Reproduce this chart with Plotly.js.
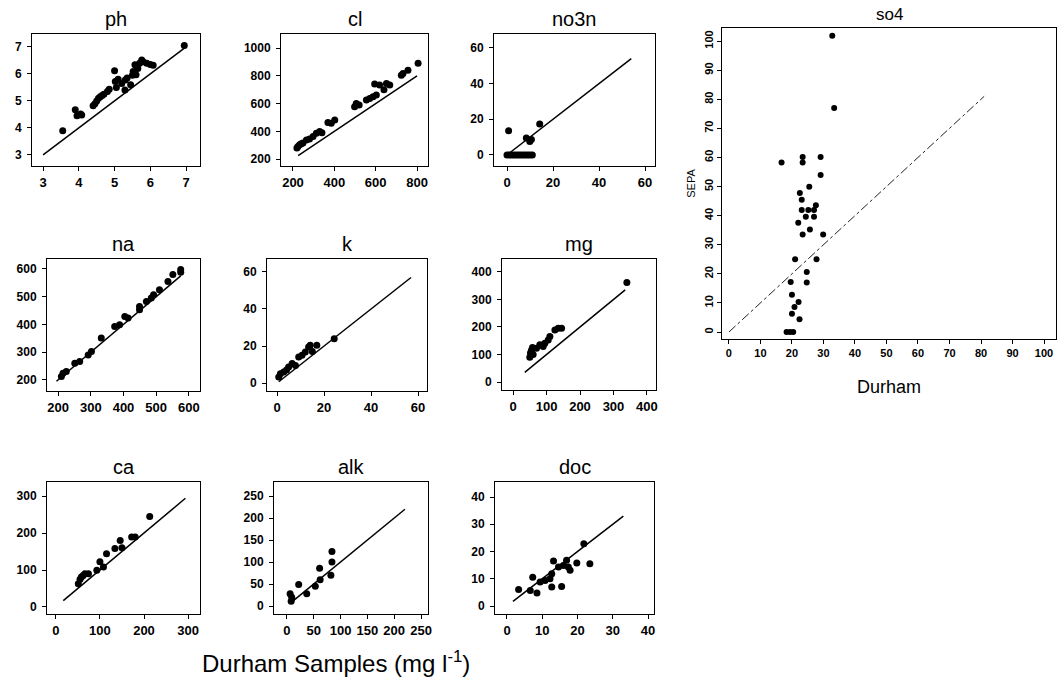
<!DOCTYPE html>
<html><head><meta charset="utf-8">
<script src="https://cdn.plot.ly/plotly-3.0.1.min.js"></script>
<style>html,body{margin:0;padding:0;background:#fff}#chart{width:1058px;height:684px}</style>
</head><body><div id="chart"></div>
<script>
// ---- data (Durham vs SEPA) ----
const panelNames = ['ph','cl','no3n','na','k','mg','ca','alk','doc','so4'];

const ph_durham = [3.55,3.9,3.95,4.08,4.05,4.4,4.45,4.5,4.55,4.6,4.65,4.7,4.8,4.85,5.0,5.02,5.05,5.1,5.2,5.29,5.3,5.35,5.45,5.5,5.52,5.57,5.6,5.65,5.7,5.76,5.8,5.9,6.0,6.08,6.95];
const ph_sepa   = [3.9,4.67,4.45,4.48,4.52,4.82,4.9,5.0,5.1,5.16,5.2,5.25,5.35,5.43,6.12,5.72,5.5,5.8,5.65,5.41,5.78,5.85,5.6,5.95,6.09,6.34,5.97,6.2,6.4,6.52,6.45,6.4,6.35,6.32,7.05];
const ph_line   = [3, 7];

const cl_durham = [219,224,232,240,248,265,280,297,313,329,340,369,385,402,498,506,520,555,571,587,595,603,619,640,652,668,724,732,756,805];
const cl_sepa   = [279,291,303,310,315,338,345,362,386,398,390,463,458,482,577,601,590,625,637,649,740,661,733,700,745,733,804,816,840,890];
const cl_line   = [225, 800];

const no3n_durham = [0.7,0,1,2,3,4,5,6,7,8,9,10,11,8.4,9.9,10.6,14.2];
const no3n_sepa   = [13.6,0,0,0,0,0,0,0,0,0,0,0,0,9.5,7.6,8.6,17.3];
const no3n_line   = [0, 54];

const na_durham = [210,215,225,251,266,292,302,332,373,388,404,414,449,449,470,485,492,510,536,551,575,575];
const na_sepa   = [212,224,230,260,266,290,302,351,393,399,429,423,465,453,483,495,507,525,555,580,598,588];
const na_line   = [195, 575];

const k_durham = [0.7,1.4,2.8,4.0,4.9,6.4,7.8,9.2,10.6,12,13.4,14.1,15,16.9,24.3];
const k_sepa   = [3.2,5,6,7,8.6,10.5,9.5,14,15,16.8,19.5,20.4,17,20.4,23.9];
const k_line   = [0.7, 57];

const mg_durham = [50,52,55,58,60,70,80,90,95,105,110,125,135,145,340];
const mg_sepa   = [90,105,115,125,100,123,135,129,141,153,165,189,195,195,362];
const mg_line   = [35, 335];

const ca_durham = [51,55,58,62,66,74,93,100,108,115,134,146,150,172,180,213];
const ca_sepa   = [63,75,81,85,90,90,99,122,108,144,158,180,160,189,189,245];
const ca_line   = [17, 294];

const alk_durham = [6,8,9,22,37,53,61,62,82,84,84];
const alk_sepa   = [28,11,20,49,28,45,86,60,70,100,124];
const alk_line   = [6, 220];

const doc_durham = [3.3,6.6,7.3,8.5,9.4,10.8,12.2,12.7,12.7,13.2,14.6,15.5,16,16.9,17.4,17.9,19.8,21.8,23.5];
const doc_sepa   = [6.1,5.7,10.6,4.8,8.8,9.4,10,11.9,7,16.5,14.3,7.2,14.9,16.8,14.3,13.1,15.8,22.9,15.5];
const doc_line   = [1.7, 33];

const so4_durham = [32.8,33.4,16.7,23.4,23.4,29.1,29.1,25.5,22.5,23.1,23.1,25.2,27.6,27,24.4,27,22,25.7,23.4,29.9,21,27.8,24.7,19.6,24.7,20,22.1,20.8,20,22.4,18.3,19.4,20.4];
const so4_sepa   = [101.8,77,58.3,60.2,58.3,60.2,54,49.9,47.8,45.5,41.9,41.9,43.6,41.9,39.6,39.6,37.6,35.2,33.5,33.5,25,25,20.6,17.2,17,12.8,10.3,8.6,6.3,4.4,0,0,0];
const so4_line   = [0, 81];

const xTicks = {
  ph:[3,4,5,6,7], cl:[200,400,600,800], no3n:[0,20,40,60], na:[200,300,400,500,600],
  k:[0,20,40,60], mg:[0,100,200,300,400], ca:[0,100,200,300], alk:[0,50,100,150,200,250],
  doc:[0,10,20,30,40], so4:[0,10,20,30,40,50,60,70,80,90,100]
};
const yTicks = {
  ph:[3,4,5,6,7], cl:[200,400,600,800,1000], no3n:[0,20,40,60], na:[200,300,400,500,600],
  k:[0,20,40,60], mg:[0,100,200,300,400], ca:[0,100,200,300], alk:[0,50,100,150,200,250],
  doc:[0,10,20,30,40], so4:[0,10,20,30,40,50,60,70,80,90,100]
};

const DATA = {
  ph:[ph_durham,ph_sepa,ph_line], cl:[cl_durham,cl_sepa,cl_line], no3n:[no3n_durham,no3n_sepa,no3n_line],
  na:[na_durham,na_sepa,na_line], k:[k_durham,k_sepa,k_line], mg:[mg_durham,mg_sepa,mg_line],
  ca:[ca_durham,ca_sepa,ca_line], alk:[alk_durham,alk_sepa,alk_line], doc:[doc_durham,doc_sepa,doc_line],
  so4:[so4_durham,so4_sepa,so4_line]
};

// ---- layout geometry (pixels) ----
const W = 1058, H = 684;
const boxes = {
  ph:  {l:32, r:200, t:34, b:166, xr:[2.69,7.39], yr:[2.59,7.48]},
  cl:  {l:281,r:428, t:34, b:166, xr:[142,853],  yr:[150,1101]},
  no3n:{l:494,r:655, t:34, b:166, xr:[-5.65,64.3], yr:[-6.2,67.8]},
  na:  {l:47, r:200, t:259,b:391, xr:[166,634],  yr:[160,636]},
  k:   {l:267,r:427, t:259,b:391, xr:[-4.3,63.8], yr:[-4.3,67]},
  mg:  {l:502,r:656, t:259,b:390, xr:[-33,427],  yr:[-29,447]},
  ca:  {l:47, r:200, t:482,b:614, xr:[-20,327],  yr:[-19,338]},
  alk: {l:274,r:428, t:482,b:614, xr:[-24,263],  yr:[-18,282]},
  doc: {l:495,r:654, t:482,b:614, xr:[-3.4,41.7], yr:[-2.9,45.5]},
  so4: {l:722,r:1056,t:28, b:339, xr:[-2.2,103.8], yr:[-2.4,104.5]}
};

const FONT = 'Liberation Sans, Arial, Helvetica, sans-serif';
const traces = [];
const layout = {
  width: W, height: H, margin:{l:0,r:0,t:0,b:0},
  paper_bgcolor:'#fff', plot_bgcolor:'#fff', showlegend:false,
  font:{family:FONT, color:'#000'}, annotations:[]
};

panelNames.forEach((name, i) => {
  const n = i + 1;
  const xa = 'x' + (n === 1 ? '' : n), ya = 'y' + (n === 1 ? '' : n);
  const [xs, ys, ln] = DATA[name];
  const b = boxes[name];
  const big = name === 'so4';
  traces.push({
    x: ln, y: ln, xaxis: xa, yaxis: ya, mode: 'lines', type: 'scatter',
    line: big ? {color:'#222', width:1, dash:'dashdot'} : {color:'#000', width:1.5},
    hoverinfo:'skip'
  });
  traces.push({
    x: xs, y: ys, xaxis: xa, yaxis: ya, mode: 'markers', type: 'scatter',
    marker: {color:'#000', size: big ? 6 : 7, line:{width:0}}
  });
  const axBase = {
    showgrid:false, zeroline:false, showline:true, mirror:true, linecolor:'#000', linewidth:1,
    ticks:'outside', ticklen:4, tickcolor:'#000', tickmode:'array', fixedrange:true
  };
  layout['xaxis' + (n === 1 ? '' : n)] = Object.assign({}, axBase, {
    domain:[b.l/W, b.r/W], range:b.xr, anchor: ya, tickvals: xTicks[name],
    tickfont:{family:FONT, size: big ? 11 : 13, color:'#000', weight:'bold'}
  });
  layout['yaxis' + (n === 1 ? '' : n)] = Object.assign({}, axBase, {
    domain:[1 - b.b/H, 1 - b.t/H], range:b.yr, anchor: xa, tickvals: yTicks[name],
    tickangle: big ? -90 : 0, ticklabelstandoff: big ? 0 : 3,
    tickfont:{family:FONT, size: big ? 11 : 12, color:'#000', weight:'bold'}
  });
  layout.annotations.push({
    text: name, xref:'paper', yref:'paper', showarrow:false,
    x: (b.l + b.r) / 2 / W, y: 1 - (b.t - (big ? 13 : 15)) / H, yanchor:'middle', xanchor:'center',
    font:{family:FONT, size: big ? 17 : 20, color:'#000'}
  });
});

layout.xaxis10.title = {text:'Durham', font:{family:FONT, size:18, color:'#000'}, standoff:22};
layout.yaxis10.title = {text:'SEPA', font:{family:FONT, size:11, color:'#000'}, standoff:4};
layout.annotations.push({
  text:'Durham Samples (mg l<sup>-1</sup>)', xref:'paper', yref:'paper', showarrow:false,
  x: 336/W, y: 1 - 662/H, xanchor:'center', yanchor:'middle',
  font:{family:FONT, size:24, color:'#000'}
});

Plotly.newPlot('chart', traces, layout, {displayModeBar:false, staticPlot:true});
</script></body></html>
